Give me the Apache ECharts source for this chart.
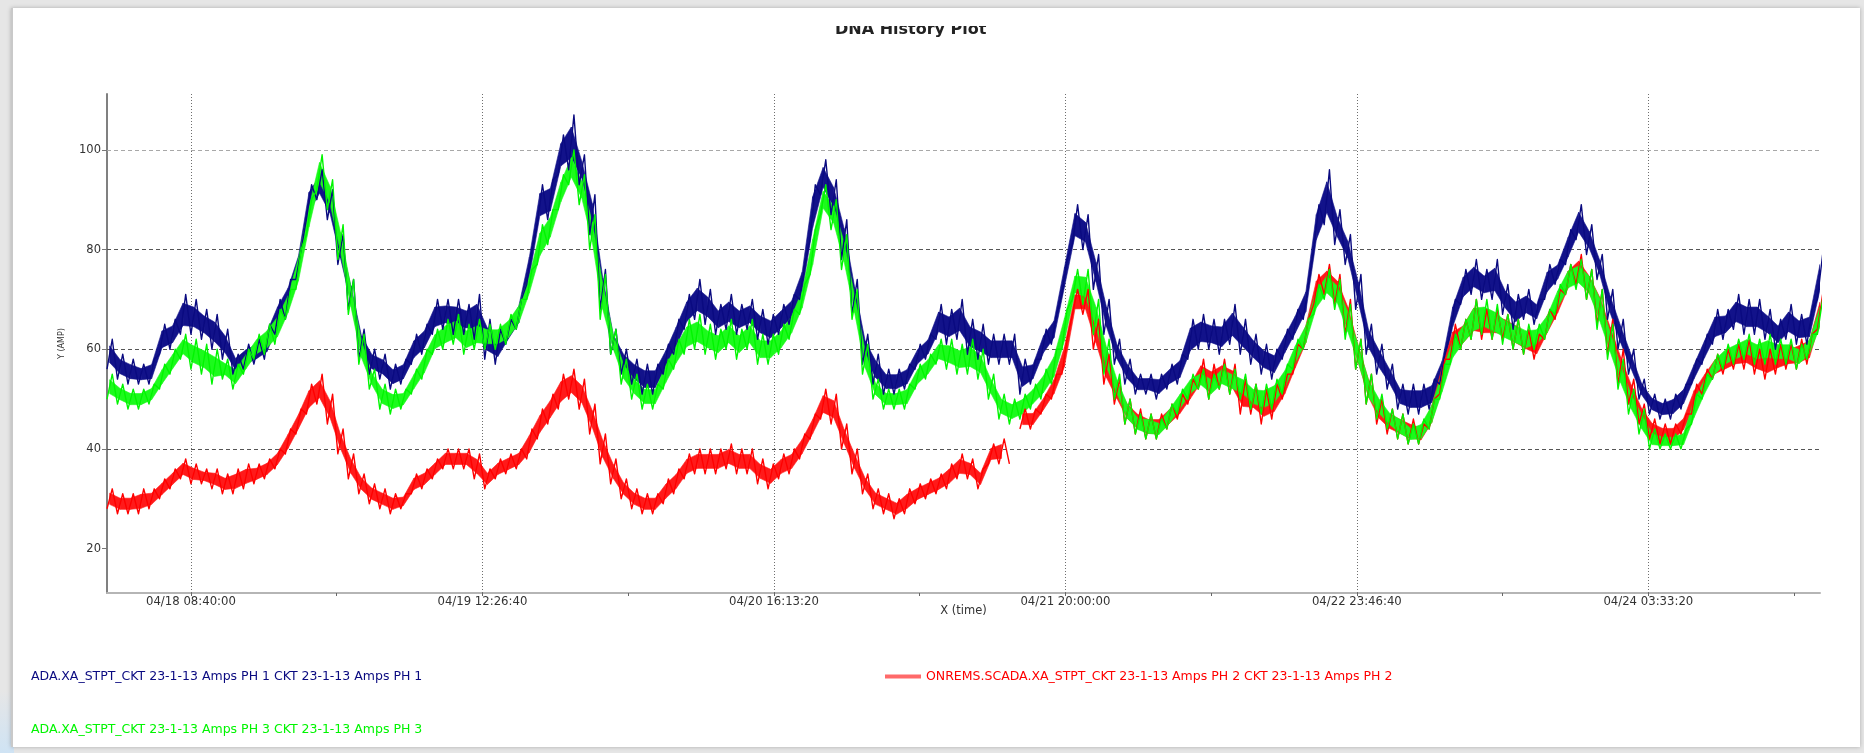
<!DOCTYPE html>
<html>
<head>
<meta charset="utf-8">
<title>DNA History Plot</title>
<script src="https://cdn.jsdelivr.net/npm/echarts@6/dist/echarts.min.js"></script>
<style>
  html, body { margin: 0; padding: 0; background: #e6e6e6; overflow: hidden; }
  #corner { position: absolute; left: 0; top: 690px; width: 14px; height: 63px;
    background: linear-gradient(to bottom, rgba(200,225,245,0), #cfe3f4); }
  #frame { position: absolute; left: 11px; top: 8px; width: 1847px; height: 739px;
    background: #fff; border-left: 2px solid #c9c9c9; box-shadow: 0 0 4px rgba(0,0,0,0.25); }
  #chart { position: absolute; left: 0; top: 0; width: 1864px; height: 753px; }
</style>
</head>
<body>
<div id="corner"></div>
<div id="frame"></div>
<div id="chart"></div>
<script>
// time stamps as shown on the plot (year is not displayed)
const YEAR = 2023;
const firstSample = "04/18 00:40:00";
const axisEnd = "04/24 19:55:00";
const tickLabels = ["04/18 08:40:00", "04/19 12:26:40", "04/20 16:13:20",
                    "04/21 20:00:00", "04/22 23:46:40", "04/24 03:33:20"];
const yTicks = [20, 40, 60, 80, 100];
const yGrid = [40, 60, 80, 100];

const seriesNames = [
  "ADA.XA_STPT_CKT 23-1-13 Amps PH 1 CKT 23-1-13 Amps PH 1",
  "ONREMS.SCADA.XA_STPT_CKT 23-1-13 Amps PH 2 CKT 23-1-13 Amps PH 2",
  "ADA.XA_STPT_CKT 23-1-13 Amps PH 3 CKT 23-1-13 Amps PH 3"
];

// hourly lower / upper edge of each noisy trace (AMP), first sample at firstSample
const blueLow = [
  56,54,53,53,53,59,60,63,
  63,62,60,58,55,56,57,58,63,66,
  74,86,90,86,77,68,58,55,54,52,
  53,57,59,63,64,63,63,62,58,57,
  61,64,73,85,86,95,96,93,83,68,
  59,55,53,51,51,55,59,64,66,65,
  63,64,63,64,62,61,63,65,70,82,
  91,87,78,67,57,53,51,51,52,56,
  58,62,61,62,59,58,57,57,57,51,
  53,58,61,71,81,80,72,63,57,53,
  51,51,50,52,53,58,60,60,59,61,
  59,57,55,54,58,62,66,80,85,81,
  77,68,59,55,52,48,47,47,48,53,
  63,69,71,70,70,67,64,66,65,70,
  73,77,82,79,74,66,60,55,50,47,
  46,46,48,53,57,61,62,64,63,63,
  62,60,62,61,61,70
];
const blueHigh = [
  62,59,58,57,58,65,66,71,
  70,68,67,64,59,61,62,65,70,74,
  80,93,96,92,83,74,64,60,59,57,
  58,63,65,70,70,70,69,71,66,64,
  66,70,80,93,94,103,107,99,91,76,
  64,60,58,57,57,61,66,71,74,72,
  69,71,69,70,68,67,69,71,77,93,
  98,94,86,74,63,59,56,56,57,61,
  63,69,68,70,66,65,63,63,63,58,
  58,64,67,78,89,87,79,70,62,58,
  55,55,55,57,59,66,67,66,66,69,
  66,63,61,60,64,68,73,89,96,88,
  83,75,65,61,57,53,53,53,54,59,
  70,76,78,76,78,73,71,72,70,77,
  78,84,89,85,79,72,66,60,54,51,
  50,51,53,58,63,68,68,71,70,70,
  68,66,69,67,68,79
];
const redLow = [
  28,27,27,27,28,30,32,34,
  33,33,32,31,31,32,33,34,36,39,
  43,47,49,45,39,34,31,29,28,27,
  28,31,32,34,36,36,36,34,32,34,
  35,36,38,42,45,48,50,48,43,37,
  33,30,28,27,27,29,31,34,35,35,
  35,36,35,35,33,32,34,35,38,42,
  46,45,40,35,31,28,27,26,27,29,
  30,31,32,34,34,32,37,37,37,44,
  44,47,50,55,67,67,60,53,49,45,
  43,42,42,44,46,49,52,50,52,51,
  47,47,45,46,50,55,60,69,71,69,
  63,56,49,45,43,42,41,41,44,51,
  58,60,62,62,62,62,60,59,58,62,
  66,71,73,70,65,59,53,49,45,42,
  41,41,43,47,51,54,55,56,56,55,
  54,55,56,56,57,64
];
const redHigh = [
  32,31,31,32,32,34,36,38,
  37,36,36,35,36,37,37,38,40,44,
  48,53,55,51,44,39,35,33,32,31,
  31,35,36,38,40,40,40,39,36,38,
  39,40,44,48,51,55,56,54,49,43,
  38,34,32,31,31,34,36,39,40,40,
  40,41,40,40,38,37,39,40,43,47,
  52,51,45,40,35,32,31,30,32,33,
  34,35,37,39,38,36,41,42,null,48,
  48,51,55,62,72,72,66,59,54,50,
  48,47,47,49,51,54,58,57,58,57,
  54,53,52,53,55,61,66,75,77,75,
  70,62,55,50,48,47,46,45,50,58,
  65,66,70,68,68,67,66,64,63,68,
  72,77,79,76,72,66,60,54,49,46,
  45,45,47,53,56,59,60,61,62,60,
  60,61,61,62,63,71
];
const greenLow = [
  50,49,48,48,49,52,55,58,
  56,55,53,54,52,55,58,59,61,66,
  72,83,92,88,78,67,57,52,48,47,
  48,51,54,59,60,61,59,60,60,60,
  61,64,70,77,81,88,93,89,80,66,
  59,53,50,48,48,52,56,59,60,59,
  58,60,58,60,57,57,59,62,67,75,
  87,84,76,66,55,50,48,48,48,52,
  54,57,56,55,55,54,50,46,45,46,
  48,50,53,60,70,69,63,55,50,45,
  43,42,42,44,47,50,52,50,52,51,
  50,48,47,48,51,56,60,67,70,68,
  62,56,49,46,44,42,41,41,44,50,
  57,60,62,63,62,61,60,59,60,62,
  67,71,72,70,64,58,52,47,43,40,
  40,40,40,45,50,54,56,57,58,57,
  57,57,57,56,58,63
];
const greenHigh = [
  55,53,52,52,53,57,60,63,
  62,61,60,58,57,60,63,65,68,72,
  80,90,99,94,85,74,63,56,53,52,
  52,56,60,64,66,67,65,66,65,65,
  67,70,76,85,88,95,100,95,87,75,
  64,58,55,53,53,58,62,66,67,65,
  64,66,64,66,63,63,65,68,73,84,
  93,90,83,72,61,54,52,52,53,57,
  59,62,62,61,62,60,55,51,50,51,
  53,56,60,68,76,76,70,62,55,50,
  47,47,46,49,52,55,56,55,57,56,
  55,53,53,54,57,62,66,73,76,74,
  69,62,55,51,48,47,45,46,50,57,
  63,66,70,70,69,67,66,65,65,68,
  73,77,78,76,72,65,58,52,48,44,
  43,43,44,51,55,59,61,62,63,62,
  63,62,62,61,63,70
];

const HOUR = 3600 * 1000;
const FONT = "'DejaVu Sans', sans-serif";

function parseStamp(s) {
  const [d, t] = s.split(" ");
  const [mo, da] = d.split("/").map(Number);
  const [hh, mi, ss] = t.split(":").map(Number);
  return Date.UTC(YEAR, mo - 1, da, hh, mi, ss);
}

const t0 = parseStamp(firstSample);
const tickValues = tickLabels.map(parseStamp);
const step = tickValues[1] - tickValues[0];
const minorTicks = tickValues.map(v => v + step / 2);

// each hour: low edge, then high edge half an hour later
function trace(low, high) {
  const out = [];
  low.forEach((lo, i) => {
    const t = t0 + i * HOUR;
    out.push([t, lo]);
    out.push([t + HOUR / 2, high[i]]);
  });
  return out;
}

// dense core of the trace: the middle part of the low..high range
function band(name, low, high, fill) {
  const rows = low.map((lo, i) => [t0 + i * HOUR + HOUR / 4, lo, high[i]]);
  const inner = (r, k) => r[1] + (r[2] - r[1]) * k;
  return {
    name: name + " core",
    type: "custom",
    silent: true,
    clip: true,
    encode: { x: 0, y: [1, 2] },
    data: rows,
    renderItem(params, api) {
      const i = params.dataIndex;
      const a = rows[i], b = rows[i + 1];
      if (!b || a[2] == null || b[2] == null) return;
      return {
        type: "polygon",
        shape: { points: [
          api.coord([a[0], inner(a, 0.22)]), api.coord([b[0], inner(b, 0.22)]),
          api.coord([b[0], inner(b, 0.78)]), api.coord([a[0], inner(a, 0.78)])
        ] },
        style: { fill: fill, stroke: fill, lineWidth: 0.6 }
      };
    }
  };
}

function traceLine(i, low, high, extra) {
  return Object.assign({
    name: seriesNames[i],
    type: "line",
    showSymbol: false,
    data: trace(low, high),
    lineStyle: { width: 1.4, color: colors[i], join: "round" }
  }, extra || {});
}

const chart = echarts.init(document.getElementById("chart"));

const colors = ["#0a0a80", "#ff0000", "#00f500"];

function legendBox(i, left, top, showIcon) {
  return {
    data: [seriesNames[i]], left: left, top: top, icon: "rect",
    itemWidth: 36, itemHeight: 4, selectedMode: false,
    itemStyle: showIcon ? { color: "#ff6a6a" } : { opacity: 0 },
    textStyle: { fontFamily: FONT, fontSize: 12.5, color: colors[i] }
  };
}

const gridMarks = {
  silent: true,
  z: 1,
  symbol: "none",
  label: { show: false },
  data: yGrid.map(v => ({
    yAxis: v,
    lineStyle: { color: v === 100 ? "#a8a8a8" : "#555", type: [4, 3], width: 1 }
  })).concat(tickValues.map(v => ({
    xAxis: v,
    lineStyle: { color: "#6e6e6e", type: [1, 2], width: 1 }
  })))
};

const option = {
  animation: false,
  color: colors,
  title: {
    text: "DNA History Plot",
    left: 830,
    top: 17,
    textStyle: { fontFamily: FONT, fontSize: 16, fontWeight: "bold", color: "#222" }
  },
  graphic: [
    // the original title is cut off along its upper half
    { type: "rect", z: 100, shape: { x: 815, y: 9, width: 200, height: 17 }, style: { fill: "#fff" } }
  ],
  legend: [
    legendBox(0, -15, 665, false),
    legendBox(1, 880, 665, true),
    legendBox(2, -15, 718, false)
  ],
  grid: { left: 107, right: 44, top: 94, bottom: 160 },
  xAxis: {
    type: "value",
    min: t0,
    max: parseStamp(axisEnd),
    name: "X (time)",
    nameLocation: "middle",
    nameGap: 12,
    nameMoveOverlap: false,
    nameTextStyle: { fontFamily: FONT, fontSize: 11.5, color: "#333" },
    axisLine: { lineStyle: { color: "#b5b5b5", width: 2 } },
    axisTick: { customValues: tickValues.concat(minorTicks), length: 3, lineStyle: { color: "#666" } },
    axisLabel: {
      customValues: tickValues,
      formatter: v => tickLabels[tickValues.indexOf(v)] || "",
      margin: 3,
      fontFamily: FONT, fontSize: 11.7, color: "#333"
    },
    splitLine: { show: false }
  },
  yAxis: {
    type: "value",
    min: 11.1,
    max: 111.2,
    name: "Y (AMP)",
    nameLocation: "middle",
    nameGap: 41,
    nameMoveOverlap: false,
    nameTextStyle: { fontFamily: FONT, fontSize: 8, color: "#333" },
    axisLine: { show: true, lineStyle: { color: "#808080", width: 2 } },
    axisTick: { show: true, customValues: yTicks, length: 5, lineStyle: { color: "#777" } },
    axisLabel: { customValues: yTicks, margin: 6, fontFamily: FONT, fontSize: 11.5, color: "#333" },
    splitLine: { show: false }
  },
  series: [
    band(seriesNames[0], blueLow, blueHigh, "#12128a"),
    traceLine(0, blueLow, blueHigh, { markLine: gridMarks }),
    band(seriesNames[1], redLow, redHigh, "#ff1a1a"),
    traceLine(1, redLow, redHigh),
    band(seriesNames[2], greenLow, greenHigh, "#1cfa1c"),
    traceLine(2, greenLow, greenHigh)
  ]
};

chart.setOption(option);
</script>
</body>
</html>
